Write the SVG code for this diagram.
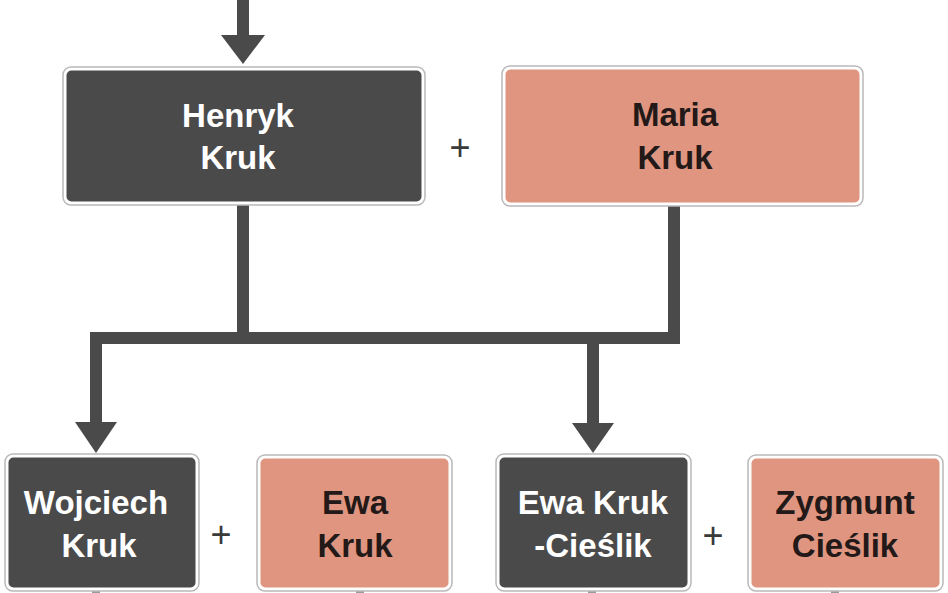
<svg xmlns="http://www.w3.org/2000/svg" width="948" height="593" viewBox="0 0 948 593">
<style>
.frame{fill:#ffffff;stroke:#b9b9b9;stroke-width:1.5}
.dark{fill:#4a4a4a}
.pink{fill:#df957f}
.t{font-family:"Liberation Sans",Arial,sans-serif;font-weight:bold;font-size:33px;text-anchor:middle}
.tw{fill:#ffffff}
.tk{fill:#221918}
.plus{font-family:"Liberation Sans",Arial,sans-serif;font-size:36px;text-anchor:middle;fill:#3a3a3a}
.line{fill:none;stroke:#4a4a4a;stroke-width:12;stroke-linejoin:miter;stroke-linecap:butt}
.head{fill:#4a4a4a}
.stub{stroke:#9a9a9a;stroke-width:8}
</style>
<rect width="948" height="593" fill="#ffffff"/>
<g id="connectors">
<path class="line" d="M243,0 V37"/>
<polygon class="head" points="221,35 265,35 243,64"/>
<path class="line" d="M243,204 V338"/>
<path class="line" d="M674,206 V338 H96 V425"/>
<polygon class="head" points="75,422 117,422 96,453"/>
<path class="line" d="M593,338 V425"/>
<polygon class="head" points="572,423 614,423 593,453"/>
<line class="stub" x1="96" y1="590" x2="96" y2="593"/>
<line class="stub" x1="360" y1="590" x2="360" y2="593"/>
<line class="stub" x1="592" y1="590" x2="592" y2="593"/>
<line class="stub" x1="835" y1="590" x2="835" y2="593"/>
</g>
<g id="henryk">
<rect class="frame" x="63" y="67" width="362" height="138" rx="8"/>
<rect class="dark" x="66.5" y="70.5" width="355" height="131" rx="5"/>
<text class="t tw" x="238" y="127">Henryk</text>
<text class="t tw" x="238" y="169">Kruk</text>
</g>
<text class="plus" x="460" y="160">+</text>
<g id="maria">
<rect class="frame" x="502" y="66" width="361" height="140" rx="8"/>
<rect class="pink" x="505.5" y="69.5" width="354" height="133" rx="5"/>
<text class="t tk" x="675" y="126">Maria</text>
<text class="t tk" x="675" y="169">Kruk</text>
</g>
<g id="wojciech">
<rect class="frame" x="5" y="454" width="194" height="137" rx="8"/>
<rect class="dark" x="8.5" y="457.5" width="187" height="130" rx="5"/>
<text class="t tw" x="96" y="514">Wojciech</text>
<text class="t tw" x="99" y="557">Kruk</text>
</g>
<text class="plus" x="221" y="547">+</text>
<g id="ewa">
<rect class="frame" x="257" y="455" width="195" height="136" rx="8"/>
<rect class="pink" x="260.5" y="458.5" width="188" height="129" rx="5"/>
<text class="t tk" x="355" y="514">Ewa</text>
<text class="t tk" x="355" y="557">Kruk</text>
</g>
<g id="ewa-kruk-cieslik">
<rect class="frame" x="496" y="454" width="195" height="137" rx="8"/>
<rect class="dark" x="499.5" y="457.5" width="188" height="130" rx="5"/>
<text class="t tw" x="593" y="514">Ewa Kruk</text>
<text class="t tw" x="593" y="557">-Cieślik</text>
</g>
<text class="plus" x="713" y="548">+</text>
<g id="zygmunt">
<rect class="frame" x="748" y="455" width="195" height="136" rx="8"/>
<rect class="pink" x="751.5" y="458.5" width="188" height="129" rx="5"/>
<text class="t tk" x="845" y="514">Zygmunt</text>
<text class="t tk" x="845" y="557">Cieślik</text>
</g>
</svg>
